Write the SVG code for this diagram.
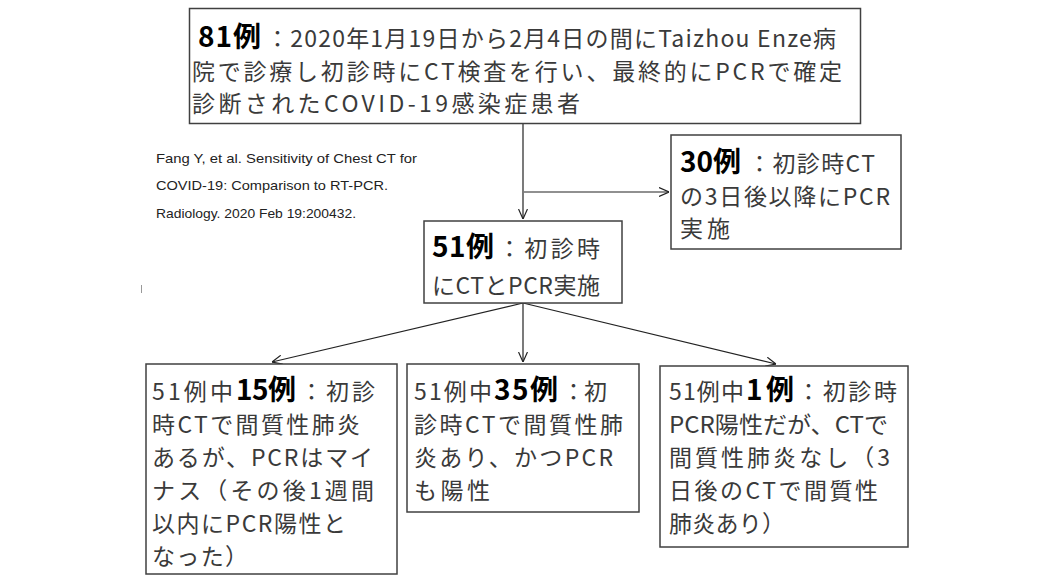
<svg xmlns="http://www.w3.org/2000/svg" width="1062" height="582" viewBox="0 0 1062 582">
<style>
.box{fill:#fff;stroke:#404040;stroke-width:1.5}
.t{font-family:"Noto Sans CJK JP","Liberation Sans",sans-serif;font-size:23px;fill:#3a3a3a}
.b{font-family:"Noto Sans CJK JP","Liberation Sans",sans-serif;font-size:28px;font-weight:700;fill:#000}
.c{font-family:"Liberation Sans","Noto Sans CJK JP",sans-serif;font-size:13.5px;fill:#222}
.ln{stroke:#222;stroke-width:1.2;fill:none}
</style>
<defs>
<marker id="ah" viewBox="0 0 10 10" refX="10" refY="5" markerWidth="10" markerHeight="10" markerUnits="userSpaceOnUse" orient="auto">
<path d="M0,0.5 L10,5 L0,9.5" fill="none" stroke="#222" stroke-width="1.2"/>
</marker>
</defs>
<rect width="1062" height="582" fill="#fff"/>

<g id="connectors">
<line class="ln" x1="523" y1="124" x2="523" y2="219" marker-end="url(#ah)"/>
<line class="ln" x1="524" y1="192" x2="669" y2="192" marker-end="url(#ah)"/>
<line class="ln" x1="523" y1="303" x2="272" y2="362" marker-end="url(#ah)"/>
<line class="ln" x1="523" y1="303" x2="523" y2="362" marker-end="url(#ah)"/>
<line class="ln" x1="523" y1="303" x2="776" y2="364" marker-end="url(#ah)"/>
</g>

<g id="node-81">
<rect class="box" x="189.5" y="8.5" width="671" height="115"/>
<text class="b" x="198" y="47" font-size="29" textLength="63" lengthAdjust="spacing">81例</text>
<text class="t" x="266" y="47" font-size="22.5" textLength="570" lengthAdjust="spacing">：2020年1月19日から2月4日の間にTaizhou Enze病</text>
<text class="t" x="192" y="80" font-size="22.5" textLength="650" lengthAdjust="spacing">院で診療し初診時にCT検査を行い、最終的にPCRで確定</text>
<text class="t" x="192" y="112" font-size="22.5" textLength="388" lengthAdjust="spacing">診断されたCOVID-19感染症患者</text>
</g>

<g id="citation">
<text class="c" x="156" y="163" textLength="261" lengthAdjust="spacingAndGlyphs">Fang Y, et al. Sensitivity of Chest CT for</text>
<text class="c" x="156" y="190" textLength="232" lengthAdjust="spacingAndGlyphs">COVID-19: Comparison to RT-PCR.</text>
<text class="c" x="156" y="218" textLength="200" lengthAdjust="spacingAndGlyphs">Radiology. 2020 Feb 19:200432.</text>
<line x1="141.5" y1="285" x2="141.5" y2="293" stroke="#999" stroke-width="1"/>
</g>

<g id="node-30">
<rect class="box" x="671" y="135" width="230" height="114"/>
<text class="b" x="680" y="172" textLength="61" lengthAdjust="spacing">30例</text>
<text class="t" x="748" y="172" textLength="127" lengthAdjust="spacing">：初診時CT</text>
<text class="t" x="680" y="205" textLength="210" lengthAdjust="spacing">の3日後以降にPCR</text>
<text class="t" x="680" y="237" textLength="50" lengthAdjust="spacing">実施</text>
</g>

<g id="node-51">
<rect class="box" x="424" y="221" width="198" height="82"/>
<text class="b" x="432" y="257" textLength="62" lengthAdjust="spacing">51例</text>
<text class="t" x="498" y="257" textLength="102" lengthAdjust="spacing">：初診時</text>
<text class="t" x="432" y="294" textLength="168" lengthAdjust="spacing">にCTとPCR実施</text>
</g>

<g id="node-15">
<rect class="box" x="146" y="364" width="251" height="210"/>
<text class="t" x="152" y="400" textLength="81" lengthAdjust="spacing">51例中</text>
<text class="b" x="236" y="400" textLength="60" lengthAdjust="spacing">15例</text>
<text class="t" x="300" y="400" textLength="75" lengthAdjust="spacing">：初診</text>
<text class="t" x="152" y="433" textLength="208" lengthAdjust="spacing">時CTで間質性肺炎</text>
<text class="t" x="152" y="466" textLength="221" lengthAdjust="spacing">あるが、PCRはマイ</text>
<text class="t" x="152" y="499" textLength="222" lengthAdjust="spacing">ナス（その後1週間</text>
<text class="t" x="152" y="532" textLength="194" lengthAdjust="spacing">以内にPCR陽性と</text>
<text class="t" x="152" y="565" textLength="96" lengthAdjust="spacing">なった）</text>
</g>

<g id="node-35">
<rect class="box" x="407" y="364" width="232" height="148"/>
<text class="t" x="414" y="400" textLength="78" lengthAdjust="spacing">51例中</text>
<text class="b" x="494" y="400" textLength="64" lengthAdjust="spacing">35例</text>
<text class="t" x="562" y="400" textLength="45" lengthAdjust="spacing">：初</text>
<text class="t" x="414" y="433" textLength="209" lengthAdjust="spacing">診時CTで間質性肺</text>
<text class="t" x="414" y="466" textLength="199" lengthAdjust="spacing">炎あり、かつPCR</text>
<text class="t" x="414" y="499" textLength="76" lengthAdjust="spacing">も陽性</text>
</g>

<g id="node-1">
<rect class="box" x="660" y="366" width="248" height="181"/>
<text class="t" x="669" y="400" textLength="75" lengthAdjust="spacing">51例中</text>
<text class="b" x="746" y="400" textLength="48" lengthAdjust="spacing">1例</text>
<text class="t" x="797" y="400" textLength="100" lengthAdjust="spacing">：初診時</text>
<text class="t" x="669" y="433" textLength="219" lengthAdjust="spacingAndGlyphs">PCR陽性だが、CTで</text>
<text class="t" x="669" y="466" textLength="221" lengthAdjust="spacing">間質性肺炎なし（3</text>
<text class="t" x="669" y="499" textLength="209" lengthAdjust="spacing">日後のCTで間質性</text>
<text class="t" x="669" y="532" textLength="116" lengthAdjust="spacing">肺炎あり）</text>
</g>
</svg>
